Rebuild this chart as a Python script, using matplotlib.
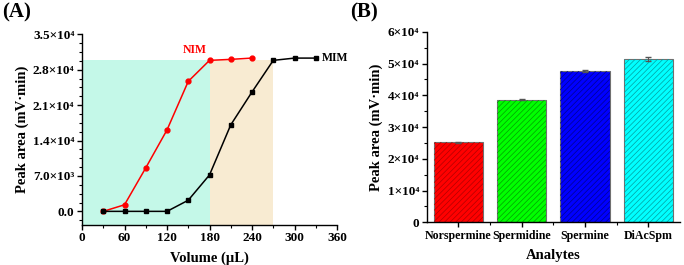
import matplotlib.pyplot as plt
import numpy as np
from matplotlib.ticker import MultipleLocator, FixedLocator

plt.rcParams['font.family'] = ['Liberation Serif', 'DejaVu Serif']
plt.rcParams['font.weight'] = 'bold'
plt.rcParams['axes.labelweight'] = 'bold'
plt.rcParams['hatch.linewidth'] = 0.5

# Panel A data
nim_vol = [30, 60, 90, 120, 150, 180, 210, 240]
nim_area = [0, 1300, 8600, 16100, 25700, 29850, 30050, 30300]
mim_vol = [30, 60, 90, 120, 150, 180, 210, 240, 270, 300, 330]
mim_area = [0, 0, 0, 0, 2200, 7200, 17100, 23600, 29850, 30300, 30300]
a_yticks = [0, 7000, 14000, 21000, 28000, 35000]
a_ylabels = ['0.0', '7.0×10³', '1.4×10⁴', '2.1×10⁴', '2.8×10⁴', '3.5×10⁴']
nim_zone = (0, 180)
mim_zone = (180, 270)
zone_top = 30000

# Panel B data
analytes = ['Norspermine', 'Spermidine', 'Spermine', 'DiAcSpm']
peak = [25200, 38600, 47600, 51500]
peak_err = [150, 150, 400, 700]
bar_colors = ['#ff0000', '#00ff00', '#0000ff', '#00ffff']
hatch_colors = ['#b00000', '#00a000', '#000090', '#00a0a0']
b_yticks = [0, 10000, 20000, 30000, 40000, 50000, 60000]
b_ylabels = ['0', '1×10⁴', '2×10⁴', '3×10⁴', '4×10⁴', '5×10⁴', '6×10⁴']

fig = plt.figure(figsize=(6.84, 2.65), dpi=100)
ax1 = fig.add_axes([0.1199, 0.1528, 0.3728, 0.7177])
ax2 = fig.add_axes([0.6238, 0.161, 0.3703, 0.719])

for ax in (ax1, ax2):
    ax.spines['top'].set_visible(False)
    ax.spines['right'].set_visible(False)
    ax.tick_params(direction='out', length=3.5, width=1, labelsize=9.5, pad=2)
    ax.tick_params(which='minor', direction='out', length=2, width=0.8)
    for s in ('left', 'bottom'):
        ax.spines[s].set_linewidth(1)

# ---- Panel A ----
ax1.fill_between(nim_zone, -2600, zone_top, color='#c4f8e8', lw=0, zorder=0)
ax1.fill_between(mim_zone, -2600, zone_top, color='#f8ebd2', lw=0, zorder=0)
ax1.plot(nim_vol, nim_area, '-o', color='red', ms=3.5, lw=1.1, zorder=3)
ax1.plot(mim_vol, mim_area, '-s', color='black', ms=3, lw=1.1, zorder=3)
ax1.text(176, 30700, 'NIM', color='red', fontsize=8.5, ha='right', va='bottom')
ax1.text(339, 30400, 'MIM', color='black', fontsize=8.5, ha='left', va='center')
ax1.set_xlim(0, 360)
ax1.set_ylim(-2600, 35000)
ax1.xaxis.set_major_locator(MultipleLocator(60))
ax1.xaxis.set_minor_locator(MultipleLocator(30))
ax1.yaxis.set_major_locator(FixedLocator(a_yticks))
ax1.set_yticklabels(a_ylabels)
ax1.yaxis.set_minor_locator(MultipleLocator(1750))
ax1.set_xlabel('Volume (µL)', fontsize=10.5, fontweight='bold', labelpad=5)
ax1.set_ylabel('Peak area (mV·min)', fontsize=10.5, fontweight='bold', labelpad=3)
for lab in ax1.get_xticklabels() + ax1.get_yticklabels():
    lab.set_fontweight('bold')

# ---- Panel B ----
x = np.arange(len(analytes))
bars = ax2.bar(x, peak, width=0.78, color=bar_colors, edgecolor='#707070',
               linewidth=0.8, zorder=2)
for b, hc in zip(bars, hatch_colors):
    ax2.bar(b.get_x() + b.get_width() / 2, b.get_height(), width=b.get_width(),
            color='none', edgecolor=hc, hatch='//////', linewidth=0, zorder=2.5)
ax2.errorbar(x, peak, yerr=peak_err, fmt='none', ecolor='#555555',
             elinewidth=0.8, capsize=2, zorder=3)
ax2.set_xlim(-0.5, 3.5)
ax2.set_ylim(0, 60000)
ax2.set_xticks(x)
ax2.set_xticklabels(analytes)
ax2.tick_params(axis='x', labelsize=8.6)
ax2.xaxis.set_minor_locator(FixedLocator([0.5, 1.5, 2.5]))
ax2.yaxis.set_major_locator(FixedLocator(b_yticks))
ax2.set_yticklabels(b_ylabels)
ax2.yaxis.set_minor_locator(MultipleLocator(5000))
ax2.set_xlabel('Analytes', fontsize=10.5, fontweight='bold', labelpad=5)
ax2.set_ylabel('Peak area (mV·min)', fontsize=10.5, fontweight='bold', labelpad=3)
for lab in ax2.get_xticklabels() + ax2.get_yticklabels():
    lab.set_fontweight('bold')

fig.text(0.003, 0.99, '(A)', fontsize=15, fontweight='bold', va='top', ha='left')
fig.text(0.512, 0.99, '(B)', fontsize=15, fontweight='bold', va='top', ha='left')

fig.savefig('out.png', dpi=100)
